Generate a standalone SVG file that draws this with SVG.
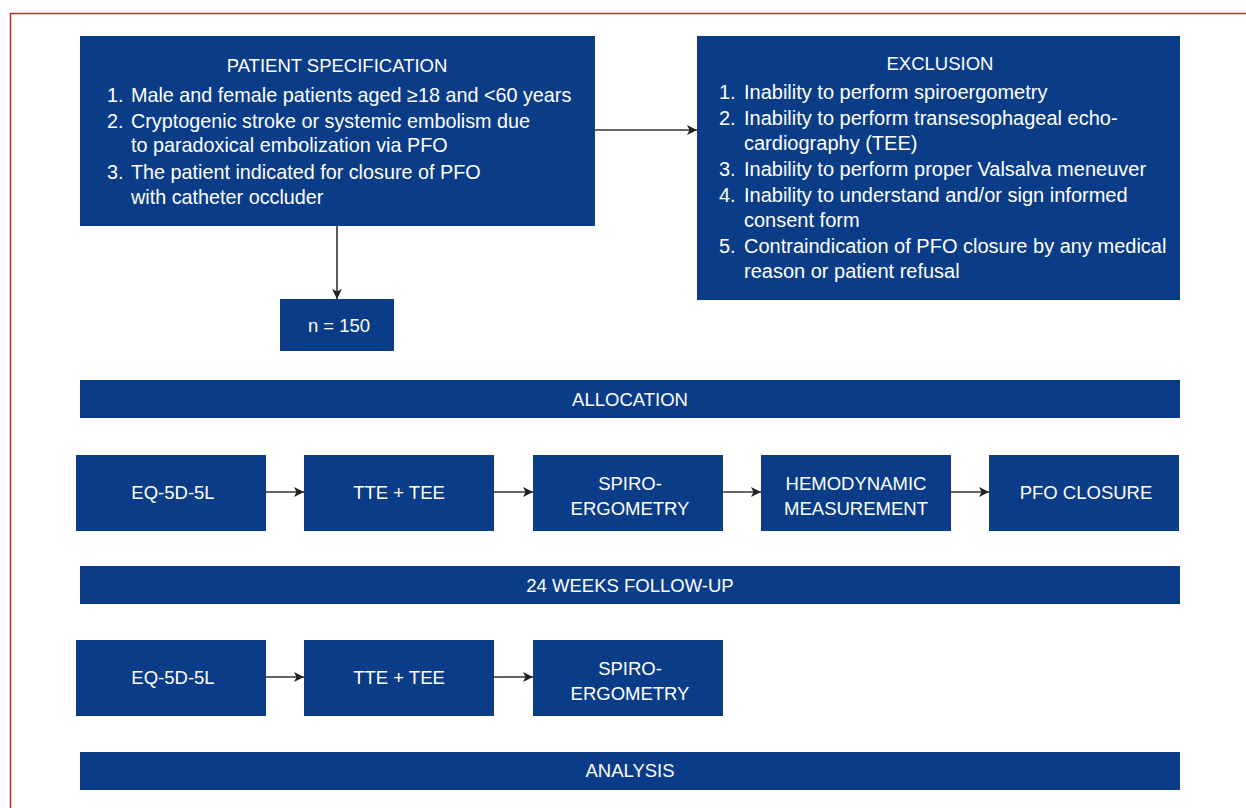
<svg xmlns="http://www.w3.org/2000/svg" width="1246" height="808" viewBox="0 0 1246 808">
<defs>
<style>
.box{fill:#0a3c87}
.t{fill:#ffffff;font-family:"Liberation Sans",Arial,sans-serif;font-size:18.5px}
.c{text-anchor:middle}
.p{font-size:19.8px}
.e{font-size:20px}
.ln{stroke:#333333;stroke-width:1.6;fill:none}
</style>
<marker id="ah" viewBox="0 0 10 10" refX="10" refY="5" markerWidth="10" markerHeight="10" markerUnits="userSpaceOnUse" orient="auto">
<path d="M0,0 L10,5 L0,10 L2.5,5 z" fill="#222222"/>
</marker>
</defs>
<rect x="0" y="0" width="1246" height="808" fill="#ffffff"/>
<path d="M10.5,808 L10.5,13.5 L1246,13.5" fill="none" stroke="#c1272d" stroke-width="1.5"/>

<g id="connectors">
<line class="ln" x1="595" y1="130" x2="697" y2="130" marker-end="url(#ah)"/>
<line class="ln" x1="337" y1="226" x2="337" y2="299" marker-end="url(#ah)"/>
<line class="ln" x1="266" y1="492" x2="304" y2="492" marker-end="url(#ah)"/>
<line class="ln" x1="494" y1="492" x2="533" y2="492" marker-end="url(#ah)"/>
<line class="ln" x1="723" y1="492" x2="761" y2="492" marker-end="url(#ah)"/>
<line class="ln" x1="951" y1="492" x2="989" y2="492" marker-end="url(#ah)"/>
<line class="ln" x1="266" y1="677" x2="304" y2="677" marker-end="url(#ah)"/>
<line class="ln" x1="494" y1="677" x2="533" y2="677" marker-end="url(#ah)"/>
</g>

<g id="patient-spec">
<rect class="box" x="80" y="36" width="515" height="190"/>
<text class="t c" x="337" y="72">PATIENT SPECIFICATION</text>
<text class="t p" x="107" y="102">1.</text>
<text class="t p" x="131" y="102">Male and female patients aged ≥18 and &lt;60 years</text>
<text class="t p" x="107" y="128">2.</text>
<text class="t p" x="131" y="128">Cryptogenic stroke or systemic embolism due</text>
<text class="t p" x="131" y="152">to paradoxical embolization via PFO</text>
<text class="t p" x="107" y="179">3.</text>
<text class="t p" x="131" y="179">The patient indicated for closure of PFO</text>
<text class="t p" x="131" y="204">with catheter occluder</text>
</g>

<g id="exclusion">
<rect class="box" x="697" y="36" width="483" height="264"/>
<text class="t c" x="940" y="70">EXCLUSION</text>
<text class="t e" x="719" y="99">1.</text>
<text class="t e" x="744" y="99">Inability to perform spiroergometry</text>
<text class="t e" x="719" y="125">2.</text>
<text class="t e" x="744" y="125">Inability to perform transesophageal echo-</text>
<text class="t e" x="744" y="150">cardiography (TEE)</text>
<text class="t e" x="719" y="176">3.</text>
<text class="t e" x="744" y="176">Inability to perform proper Valsalva meneuver</text>
<text class="t e" x="719" y="202">4.</text>
<text class="t e" x="744" y="202">Inability to understand and/or sign informed</text>
<text class="t e" x="744" y="227">consent form</text>
<text class="t e" x="719" y="253">5.</text>
<text class="t e" x="744" y="253">Contraindication of PFO closure by any medical</text>
<text class="t e" x="744" y="278">reason or patient refusal</text>
</g>

<g id="n150">
<rect class="box" x="280" y="299" width="114" height="52"/>
<text class="t c" x="339" y="332">n = 150</text>
</g>

<g id="allocation">
<rect class="box" x="80" y="380" width="1100" height="38"/>
<text class="t c" x="630" y="406">ALLOCATION</text>
</g>

<g id="eq1">
<rect class="box" x="76" y="455" width="190" height="76"/>
<text class="t c" x="173" y="499">EQ-5D-5L</text>
</g>
<g id="tte1">
<rect class="box" x="304" y="455" width="190" height="76"/>
<text class="t c" x="399" y="499">TTE + TEE</text>
</g>
<g id="spiro1">
<rect class="box" x="533" y="455" width="190" height="76"/>
<text class="t c" x="630" y="490">SPIRO-</text>
<text class="t c" x="630" y="515">ERGOMETRY</text>
</g>
<g id="hemo1">
<rect class="box" x="761" y="455" width="190" height="76"/>
<text class="t c" x="856" y="490">HEMODYNAMIC</text>
<text class="t c" x="856" y="515">MEASUREMENT</text>
</g>
<g id="pfo1">
<rect class="box" x="989" y="455" width="190" height="76"/>
<text class="t c" x="1086" y="499">PFO CLOSURE</text>
</g>

<g id="followup">
<rect class="box" x="80" y="566" width="1100" height="38"/>
<text class="t c" x="630" y="592">24 WEEKS FOLLOW-UP</text>
</g>

<g id="eq2">
<rect class="box" x="76" y="640" width="190" height="76"/>
<text class="t c" x="173" y="684">EQ-5D-5L</text>
</g>
<g id="tte2">
<rect class="box" x="304" y="640" width="190" height="76"/>
<text class="t c" x="399" y="684">TTE + TEE</text>
</g>
<g id="spiro2">
<rect class="box" x="533" y="640" width="190" height="76"/>
<text class="t c" x="630" y="675">SPIRO-</text>
<text class="t c" x="630" y="700">ERGOMETRY</text>
</g>

<g id="analysis">
<rect class="box" x="80" y="752" width="1100" height="38"/>
<text class="t c" x="630" y="777">ANALYSIS</text>
</g>
</svg>
